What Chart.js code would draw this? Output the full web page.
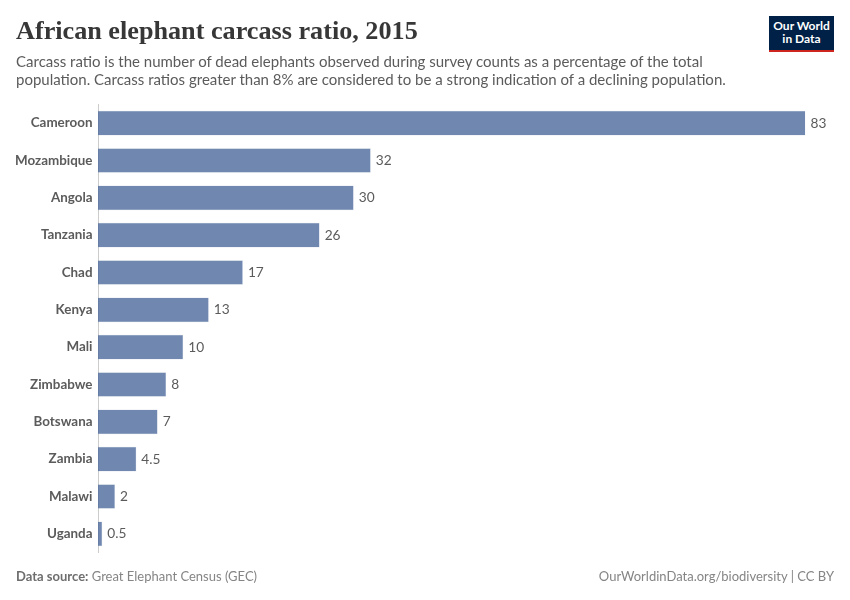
<!DOCTYPE html>
<html>
<head>
<meta charset="utf-8">
<script src="https://cdn.jsdelivr.net/npm/chart.js@4/dist/chart.umd.min.js"></script>
<style>
  html, body { margin: 0; padding: 0; background: #fff; }
  body { width: 850px; height: 600px; position: relative; overflow: hidden; font-family: Lato, sans-serif; }
  #chart { position: absolute; left: 0; top: 0; }
  .txt { position: absolute; white-space: nowrap; }
  #title { left: 16px; top: 14px; font: bold 26.2px/34px "Liberation Serif", serif; color: #373737; }
  .sub { left: 16px; font-size: 15px; line-height: 18px; color: #5b5b5b; }
  #source { left: 16px; top: 568px; font-size: 13px; line-height: 16px; color: #858585; }
  #source b { color: #6e6e6e; }
  #credit { right: 16px; top: 568px; font-size: 13px; line-height: 16px; color: #858585; }
  #logo { position: absolute; left: 769px; top: 16px; width: 65px; height: 33.5px; background: #002147; border-bottom: 2.5px solid #ce261e;
          color: #fff; font-size: 12px; font-weight: bold; line-height: 12.5px; text-align: center; display: flex; align-items: center; justify-content: center; }
</style>
</head>
<body>
<canvas id="chart" width="850" height="600"></canvas>
<div class="txt" id="title">African elephant carcass ratio, 2015</div>
<div class="txt sub" style="top:52px">Carcass ratio is the number of dead elephants observed during survey counts as a percentage of the total</div>
<div class="txt sub" style="top:70px">population. Carcass ratios greater than 8% are considered to be a strong indication of a declining population.</div>
<div id="logo"><span>Our World<br>in Data</span></div>
<div class="txt" id="source"><b>Data source:</b> Great Elephant Census (GEC)</div>
<div class="txt" id="credit">OurWorldinData.org/biodiversity | CC BY</div>
<script>
const countries = ['Cameroon', 'Mozambique', 'Angola', 'Tanzania', 'Chad', 'Kenya', 'Mali', 'Zimbabwe', 'Botswana', 'Zambia', 'Malawi', 'Uganda'];
const carcassRatio = [83, 32, 30, 26, 17, 13, 10, 8, 7, 4.5, 2, 0.5];

// value at the end of each bar
const barValueLabels = {
    id: 'barValueLabels',
    afterDatasetsDraw(chart) {
        const ctx = chart.ctx;
        ctx.save();
        ctx.font = '13.7px Lato';
        ctx.fillStyle = '#5b5b5b';
        ctx.textAlign = 'left';
        ctx.textBaseline = 'middle';
        chart.getDatasetMeta(0).data.forEach((bar, i) => {
            ctx.fillText(String(carcassRatio[i]), bar.x + 5, bar.y);
        });
        ctx.restore();
    }
};

new Chart(document.getElementById('chart'), {
    type: 'bar',
    data: {
        labels: countries,
        datasets: [{
            data: carcassRatio,
            backgroundColor: 'rgba(76, 106, 156, 0.8)',
            borderColor: 'rgba(76, 106, 156, 0.25)',
            borderWidth: 0.5,
            categoryPercentage: 1,
            barPercentage: 0.66
        }]
    },
    options: {
        indexAxis: 'y',
        responsive: false,
        animation: false,
        layout: { padding: { left: 0, right: 44.5, top: 104.5, bottom: 47.5 } },
        plugins: { legend: { display: false }, tooltip: { enabled: false } },
        scales: {
            x: { display: false, min: 0, max: 83 },
            y: {
                afterFit(scale) { scale.width = 98; },
                grid: { display: false, drawTicks: false },
                border: { display: true, color: '#cccccc', width: 1 },
                ticks: {
                    color: '#5b5b5b',
                    padding: 5.5,
                    autoSkip: false,
                    font: { family: 'Lato', size: 13.4, weight: 'bold' }
                }
            }
        }
    },
    plugins: [barValueLabels]
});
</script>
</body>
</html>
